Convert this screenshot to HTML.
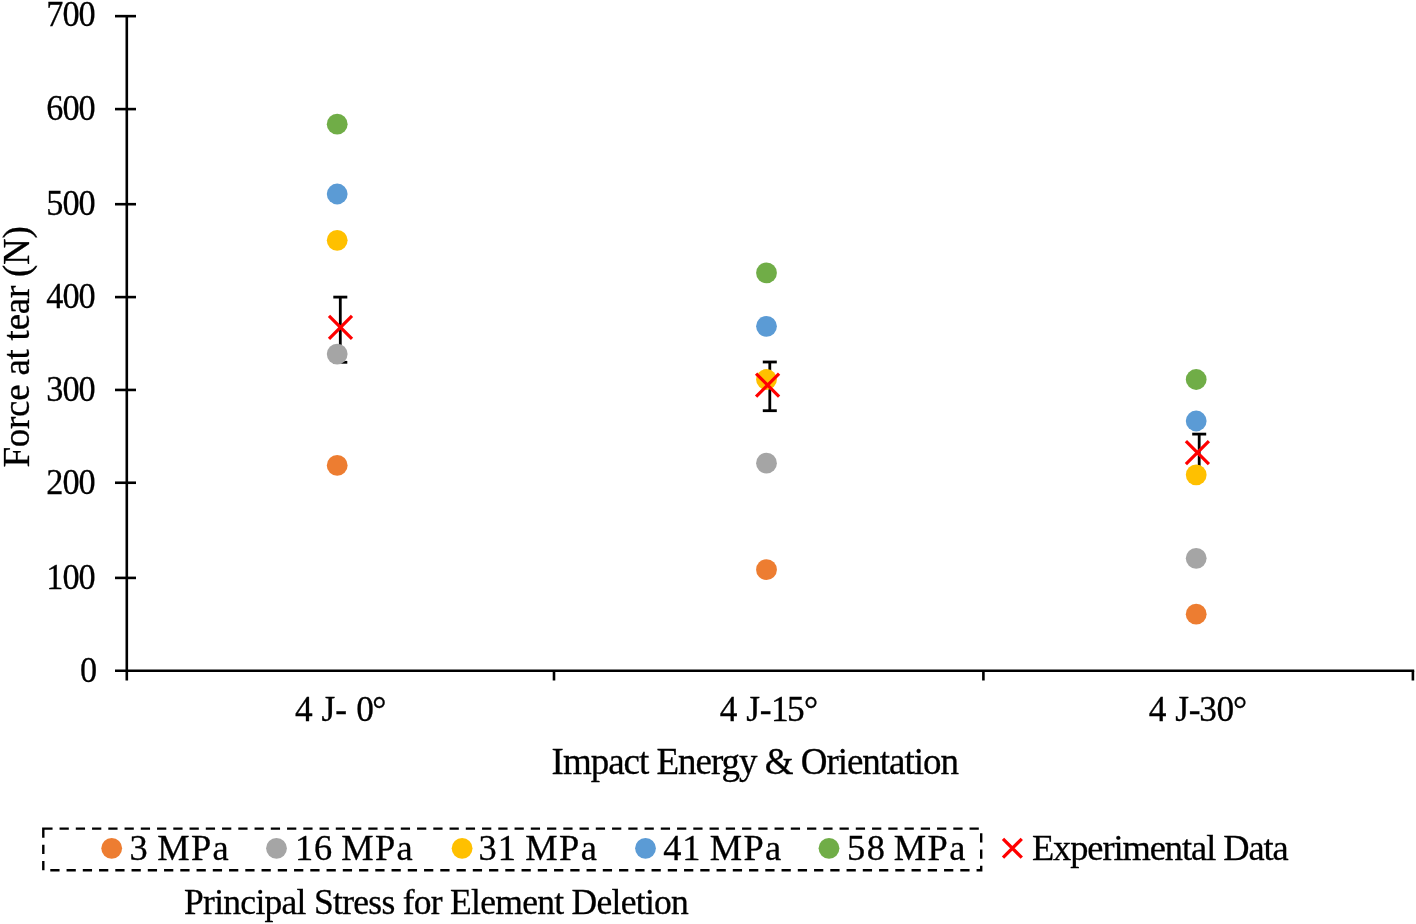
<!DOCTYPE html>
<html>
<head>
<meta charset="utf-8">
<style>
html,body{margin:0;padding:0;background:#fff;width:1416px;height:924px;overflow:hidden}
svg{display:block;will-change:transform}
text{font-family:"Liberation Serif",serif;fill:#000;stroke:#000;stroke-width:0.3px}
</style>
</head>
<body>
<svg width="1416" height="924" viewBox="0 0 1416 924">
<rect width="1416" height="924" fill="#fff"/>
<!-- axes -->
<g stroke="#000" stroke-width="2.6" fill="none">
<line x1="126.8" y1="14.9" x2="126.8" y2="680.5"/>
<line x1="115" y1="16.15" x2="136" y2="16.15"/>
<line x1="115" y1="109.1" x2="136" y2="109.1"/>
<line x1="115" y1="204.2" x2="136" y2="204.2"/>
<line x1="115" y1="297.1" x2="136" y2="297.1"/>
<line x1="115" y1="389.94" x2="136" y2="389.94"/>
<line x1="115" y1="482.75" x2="136" y2="482.75"/>
<line x1="115" y1="577.9" x2="136" y2="577.9"/>
<line x1="115" y1="670.76" x2="1414.2" y2="670.76"/>
<line x1="554" y1="670.76" x2="554" y2="680.5"/>
<line x1="983.4" y1="670.76" x2="983.4" y2="680.5"/>
<line x1="1412.9" y1="670.76" x2="1412.9" y2="680.5"/>
</g>
<!-- y tick labels -->
<g font-size="36.8" text-anchor="end" letter-spacing="-1">
<text transform="translate(94.8,25.85) scale(0.93,1)">700</text>
<text transform="translate(94.8,119.50) scale(0.93,1)">600</text>
<text transform="translate(94.8,215.00) scale(0.93,1)">500</text>
<text transform="translate(94.8,307.90) scale(0.93,1)">400</text>
<text transform="translate(94.8,400.74) scale(0.93,1)">300</text>
<text transform="translate(94.8,493.65) scale(0.93,1)">200</text>
<text transform="translate(94.8,588.70) scale(0.93,1)">100</text>
<text transform="translate(96.2,681.6) scale(0.93,1)">0</text>
</g>
<!-- y title -->
<text font-size="37" letter-spacing="-0.25" transform="translate(29,467.6) rotate(-90)">Force at tear (N)</text>
<!-- x labels -->
<g font-size="35.3">
<text x="295.05 305.05 321.62 335.30 345.30 356.22 372.30" y="720.7">4 J- 0°</text>
<text x="719.81 729.81 746.22 759.68 770.95 787.08 803.89" y="720.7">4 J-15°</text>
<text x="1148.81 1158.81 1175.22 1188.68 1199.37 1216.61 1232.89" y="720.7">4 J-30°</text>
</g>
<text font-size="37" letter-spacing="-1.02" x="551.6" y="774.1">Impact Energy &amp; Orientation</text>

<!-- error bars -->
<g stroke="#000" stroke-width="2.8" fill="none">
<line x1="340.3" y1="297.1" x2="340.3" y2="362.3"/>
<line x1="333.3" y1="297.1" x2="347.3" y2="297.1"/>
<line x1="333.3" y1="362.3" x2="347.3" y2="362.3"/>
<line x1="769.8" y1="362" x2="769.8" y2="410.7"/>
<line x1="762.8" y1="362" x2="776.8" y2="362"/>
<line x1="762.8" y1="410.7" x2="776.8" y2="410.7"/>
<line x1="1199.2" y1="434.1" x2="1199.2" y2="471.3"/>
<line x1="1192.2" y1="434.1" x2="1206.2" y2="434.1"/>
</g>
<!-- dots -->
<g>
<circle cx="337.2" cy="465.4" r="10.4" fill="#ED7D31"/>
<circle cx="337.2" cy="354.1" r="10.4" fill="#A5A5A5"/>
<circle cx="337.2" cy="240.3" r="10.4" fill="#FFC000"/>
<circle cx="337.2" cy="194" r="10.4" fill="#5B9BD5"/>
<circle cx="337.2" cy="124.2" r="10.4" fill="#70AD47"/>
<circle cx="766.5" cy="569.7" r="10.4" fill="#ED7D31"/>
<circle cx="766.5" cy="463.2" r="10.4" fill="#A5A5A5"/>
<circle cx="766.5" cy="379.5" r="10.4" fill="#FFC000"/>
<circle cx="766.5" cy="326.3" r="10.4" fill="#5B9BD5"/>
<circle cx="766.5" cy="272.9" r="10.4" fill="#70AD47"/>
<circle cx="1196.2" cy="614.2" r="10.4" fill="#ED7D31"/>
<circle cx="1196.2" cy="558.3" r="10.4" fill="#A5A5A5"/>
<circle cx="1196.2" cy="474.8" r="10.4" fill="#FFC000"/>
<circle cx="1196.2" cy="421" r="10.4" fill="#5B9BD5"/>
<circle cx="1196.2" cy="379.5" r="10.4" fill="#70AD47"/>
</g>
<!-- X markers -->
<g stroke="#FF0000" stroke-width="3.2" fill="none">
<path d="M329.00 315.80L352.00 338.80M352.00 315.80L329.00 338.80"/>
<path d="M756.10 373.70L779.10 396.70M779.10 373.70L756.10 396.70"/>
<path d="M1185.90 441.20L1208.90 464.20M1208.90 441.20L1185.90 464.20"/>
</g>

<!-- legend -->
<rect x="43.3" y="828.6" width="937.9" height="41.7" fill="none" stroke="#000" stroke-width="2.4" stroke-dasharray="9.25 7"/>
<circle cx="111.7" cy="848.3" r="10.4" fill="#ED7D31"/>
<circle cx="276.5" cy="848.3" r="10.4" fill="#A5A5A5"/>
<circle cx="462.1" cy="848.3" r="10.4" fill="#FFC000"/>
<circle cx="645.5" cy="848.3" r="10.4" fill="#5B9BD5"/>
<circle cx="829" cy="848.3" r="10.4" fill="#70AD47"/>
<path d="M1003.00 838.80L1021.80 857.60M1021.80 838.80L1003.00 857.60" stroke="#FF0000" stroke-width="3.3" fill="none"/>
<g font-size="36.4">
<text y="859.8"><tspan x="129.44">3</tspan><tspan x="157.25" letter-spacing="1.35">MPa</tspan></text>
<text y="859.8"><tspan x="295.04 313.96">16</tspan><tspan x="341.25" letter-spacing="1.35">MPa</tspan></text>
<text y="859.8"><tspan x="478.59 497.74">31</tspan><tspan x="525.35" letter-spacing="1.35">MPa</tspan></text>
<text y="859.8"><tspan x="663.33 682.14">41</tspan><tspan x="709.75" letter-spacing="1.35">MPa</tspan></text>
<text y="859.8"><tspan x="847.10 866.70">58</tspan><tspan x="893.85" letter-spacing="1.35">MPa</tspan></text>
</g>
<g font-size="36.4">
<text x="1031.9" y="859.6" letter-spacing="-1.06">Experimental Data</text>
</g>
<g font-size="35.5">
<text x="184" y="913.6" letter-spacing="-0.71">Principal Stress for Element Deletion</text>
</g>
</svg>
</body>
</html>
